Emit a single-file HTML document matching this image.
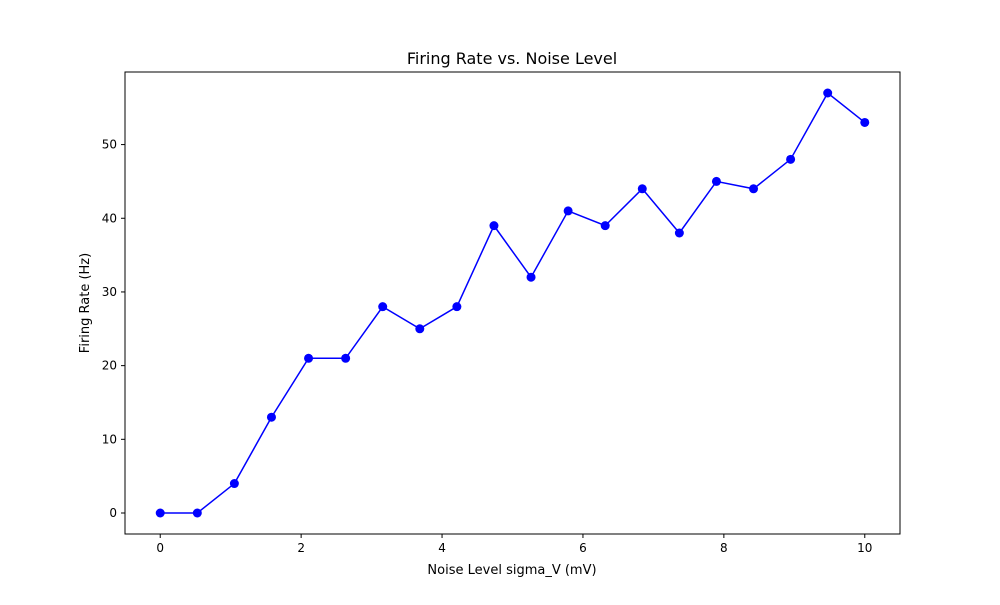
<!DOCTYPE html>
<html><head><meta charset="utf-8"><style>
body{margin:0;background:#fff;font-family:"Liberation Sans","DejaVu Sans",sans-serif;}
svg text{font-family:"DejaVu Sans","Liberation Sans",sans-serif;}
</style></head><body>
<svg id="chart" width="1000" height="600">
<rect width="1000" height="600" fill="#fff"/>
<text x="512" y="64" text-anchor="middle" font-size="16">Firing Rate vs. Noise Level</text>
<text x="512" y="574" text-anchor="middle" font-size="13">Noise Level sigma_V (mV)</text>
<text transform="translate(89,303) rotate(-90)" text-anchor="middle" font-size="13">Firing Rate (Hz)</text>
<g id="ticks"></g>
<g id="series"></g>
<rect x="125" y="72" width="775" height="462" fill="none" stroke="#000" stroke-width="1"/>
</svg>
<script>
const xValues=[0,0.5263,1.0526,1.5789,2.1053,2.6316,3.1579,3.6842,4.2105,4.7368,5.2632,5.7895,6.3158,6.8421,7.3684,7.8947,8.4211,8.9474,9.4737,10];
const rates=[0,0,4,13,21,21,28,25,28,39,32,41,39,44,38,45,44,48,57,53];
const xTicks=[0,2,4,6,8,10];
const yTicks=[0,10,20,30,40,50];
const NS="http://www.w3.org/2000/svg";
const L=125,R=900,T=72,B=534;
const xmin=-0.5,xmax=10.5,ymin=-2.85,ymax=59.85;
const sx=v=>L+(v-xmin)/(xmax-xmin)*(R-L);
const sy=v=>B-(v-ymin)/(ymax-ymin)*(B-T);
function mk(t,a,p){const e=document.createElementNS(NS,t);for(const k in a)e.setAttribute(k,a[k]);p.appendChild(e);return e;}
const tg=document.getElementById('ticks');
xTicks.forEach(v=>{const x=sx(v);
 const l=mk('line',{x1:x,x2:x,y1:B,y2:B+4,stroke:'#000'},tg);
 
 
 const t=mk('text',{x:x,y:B+18,'text-anchor':'middle','font-size':'12'},tg);t.textContent=v;
 
 });
yTicks.forEach(v=>{const y=sy(v);
 const l=mk('line',{x1:L-4,x2:L,y1:y,y2:y,stroke:'#000'},tg);
 
 
 const t=mk('text',{x:L-8,y:y+4,'text-anchor':'end','font-size':'12'},tg);t.textContent=v;
 
 });
const sg=document.getElementById('series');
const pl=mk('polyline',{points:xValues.map((x,i)=>sx(x)+','+sy(rates[i])).join(' '),fill:'none',stroke:'#0000ff','stroke-width':1.5},sg);


xValues.forEach((x,i)=>{const c=mk('circle',{cx:sx(x),cy:sy(rates[i]),r:4.5,fill:'#0000ff'},sg);
 
 });
</script>
</body></html>
